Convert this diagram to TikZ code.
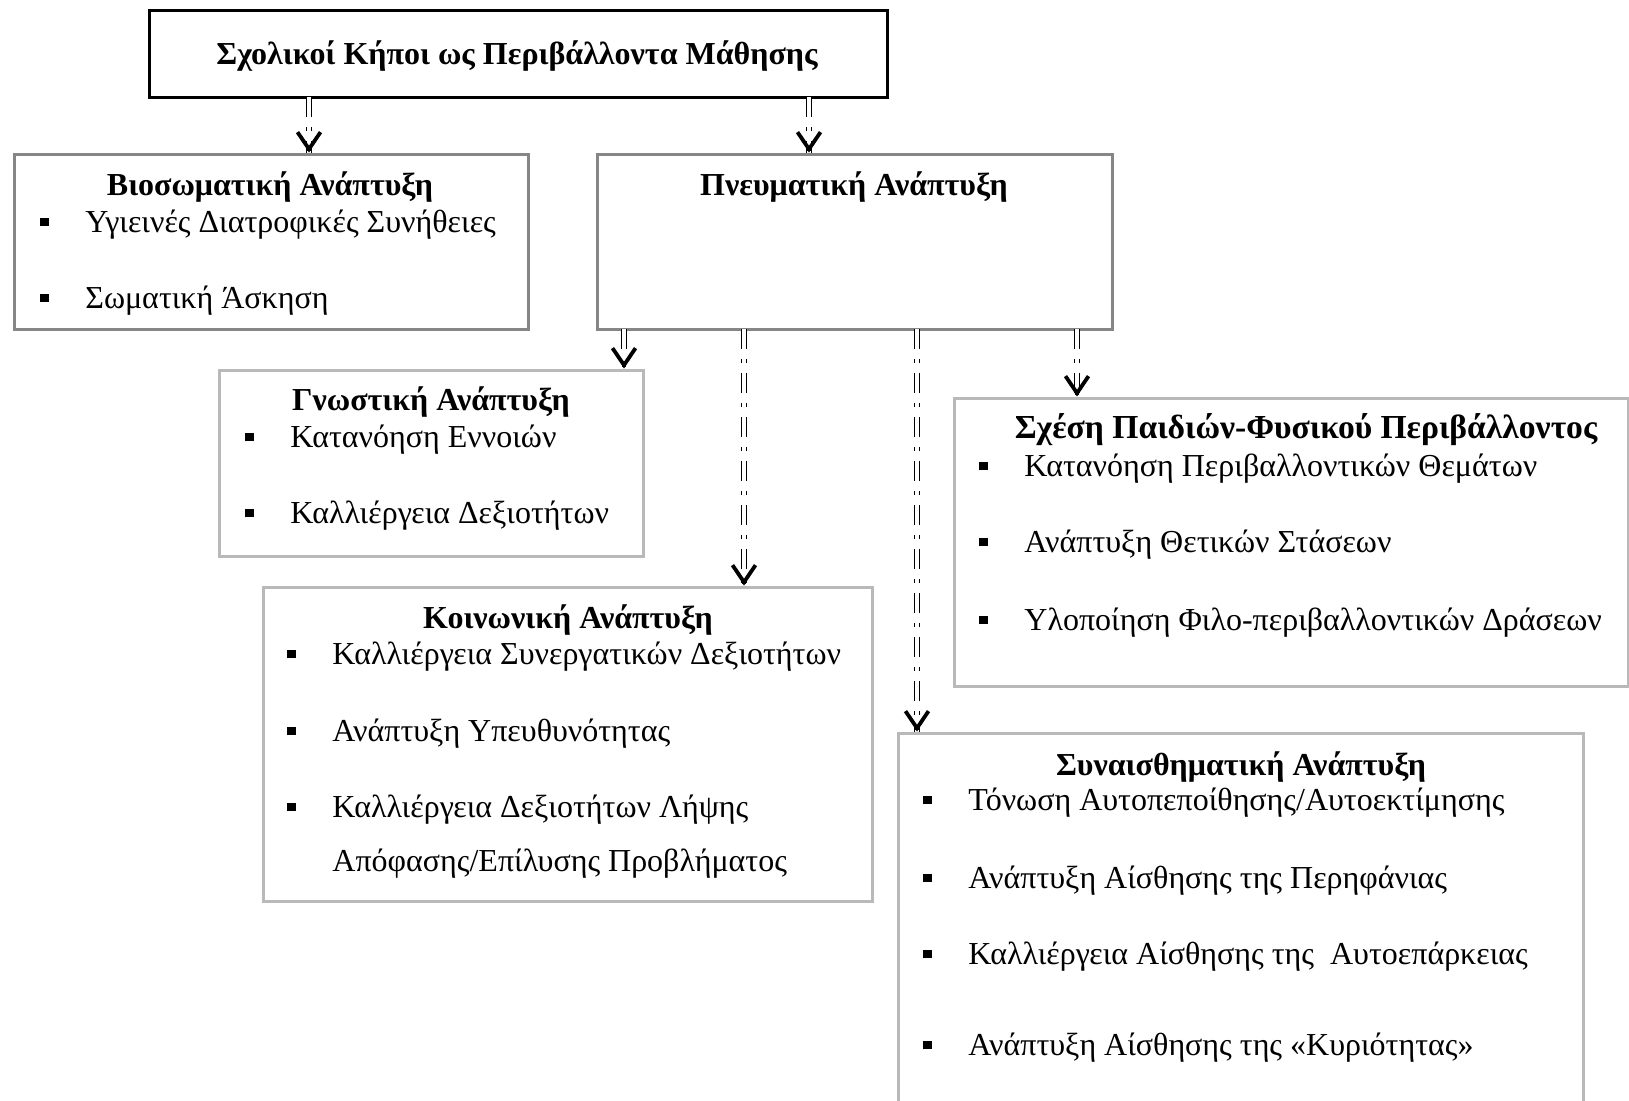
\documentclass[tikz,border=0pt]{standalone}
\usepackage{fontspec}
\setmainfont{Liberation Serif}
\usetikzlibrary{arrows.meta, positioning}
\newcommand{\bul}{\llap{\rule[2.8pt]{4.3pt}{4.3pt}\hspace{18.4pt}}}
\tikzset{
  box/.style={draw=#1, line width=1.5pt, inner sep=0pt, fill=white},
  ttl/.style={font=\fontsize{16}{19}\selectfont\bfseries, anchor=base, inner sep=0pt},
  itm/.style={font=\fontsize{16}{19}\selectfont, anchor=base west, inner sep=0pt},
  link/.style={double, double distance=1.6pt, line width=0.5pt, dash pattern=on 10pt off 5pt on 2pt off 5pt},
  tip/.style={-{Straight Barb[length=8.5pt, width=11.5pt, line width=1.9pt]}, line width=1.9pt}
}

\begin{document}
\begin{tikzpicture}[x=0.5pt, y=-0.5pt]
\useasboundingbox (0,0) rectangle (1629,1100);
% boxes
\node[box=black, minimum width=369pt, minimum height=43.5pt] (top) at (518,53.5) {};
\node[box=gray!95, minimum width=257pt, minimum height=87.5pt] (bio) at (271,241.5) {};
\node[box=gray!95, minimum width=257.5pt, minimum height=87.5pt] (pn) at (854.5,241.5) {};
\node[box=gray!55, minimum width=212pt, minimum height=93pt] (gn) at (431,463) {};
\node[box=gray!55, minimum width=304.5pt, minimum height=157pt] (kn) at (567.5,744) {};
\node[box=gray!55, minimum width=337pt, minimum height=144pt] (sx) at (1291,542) {};
\node[box=gray!55, minimum width=342.5pt, minimum height=191pt] (sn) at (1240.5,924) {};

% texts
\node[ttl] (topT) at (517,64) {Σχολικοί Κήποι ως Περιβάλλοντα Μάθησης};

\node[ttl] (bioT) at (270,195) {Βιοσωματική Ανάπτυξη};
\node[itm] (bio1) at (85,232) {\bul Υγιεινές Διατροφικές Συνήθειες};
\node[itm] (bio2) at (85,308) {\bul Σωματική Άσκηση};

\node[ttl] (pnT) at (854,195) {Πνευματική Ανάπτυξη};

\node[ttl] (gnT) at (431,410) {Γνωστική Ανάπτυξη};
\node[itm] (gn1) at (290,447) {\bul Κατανόηση Εννοιών};
\node[itm] (gn2) at (290,523) {\bul Καλλιέργεια Δεξιοτήτων};

\node[ttl] (knT) at (568,628) {Κοινωνική Ανάπτυξη};
\node[itm] (kn1) at (332,664) {\bul Καλλιέργεια Συνεργατικών Δεξιοτήτων};
\node[itm] (kn2) at (332,741) {\bul Ανάπτυξη Υπευθυνότητας};
\node[itm] (kn3) at (332,817) {\bul Καλλιέργεια Δεξιοτήτων Λήψης};
\node[itm] (kn4) at (332,871) {Απόφασης/Επίλυσης Προβλήματος};

\node[ttl, font=\fontsize{16.8}{19}\selectfont\bfseries] (sxT) at (1306,438) {Σχέση Παιδιών-Φυσικού Περιβάλλοντος};
\node[itm] (sx1) at (1024,476) {\bul Κατανόηση Περιβαλλοντικών Θεμάτων};
\node[itm] (sx2) at (1024,552) {\bul Ανάπτυξη Θετικών Στάσεων};
\node[itm] (sx3) at (1024,630) {\bul Υλοποίηση Φιλο-περιβαλλοντικών Δράσεων};

\node[ttl] (snT) at (1241,775) {Συναισθηματική Ανάπτυξη};
\node[itm] (sn1) at (968,810) {\bul Τόνωση Αυτοπεποίθησης/Αυτοεκτίμησης};
\node[itm] (sn2) at (968,888) {\bul Ανάπτυξη Αίσθησης της Περηφάνιας};
\node[itm] (sn3) at (968,964) {\bul Καλλιέργεια Αίσθησης της\ \ Αυτοεπάρκειας};
\node[itm] (sn4) at (968,1055) {\bul Ανάπτυξη Αίσθησης της «Κυριότητας»};

% connectors
\coordinate (a1) at (309,97);
\coordinate (a2) at (809,97);
\coordinate (b1) at (624,329);
\coordinate (b2) at (744,329);
\coordinate (b3) at (917,329);
\coordinate (b4) at (1077,329);
\coordinate (ta1) at (a1 |- bio.north);
\coordinate (ta2) at (a2 |- pn.north);
\coordinate (tb1) at (b1 |- gn.north);
\coordinate (tb2) at (b2 |- kn.north);
\coordinate (tb3) at (b3 |- sn.north);
\coordinate (tb4) at (b4 |- sx.north);
\draw[link] (a1) -- (ta1);
\draw[link] (a2) -- (ta2);
\draw[link] (b1) -- (tb1);
\draw[link] (b2) -- (tb2);
\draw[link] (b3) -- (tb3);
\draw[link] (b4) -- (tb4);
\draw[tip] ([yshift=1pt]ta1) -- (ta1);
\draw[tip] ([yshift=1pt]ta2) -- (ta2);
\draw[tip] ([yshift=1pt]tb1) -- (tb1);
\draw[tip] ([yshift=1pt]tb2) -- (tb2);
\draw[tip] ([yshift=1pt]tb3) -- (tb3);
\draw[tip] ([yshift=1pt]tb4) -- (tb4);
\end{tikzpicture}
\end{document}
